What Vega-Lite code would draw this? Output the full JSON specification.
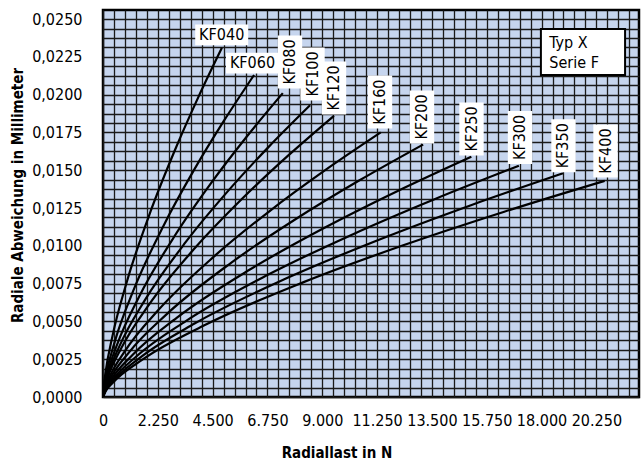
{
  "$schema": "https://vega.github.io/schema/vega-lite/v6.json",
  "autosize": {"type": "none"},
  "padding": {"left": 103, "top": 10, "right": 2, "bottom": 65},
  "width": 536,
  "height": 387,
  "background": "white",
  "config": {
    "view": {"fill": "#c6d5ee", "stroke": "black", "strokeWidth": 2.5},
    "font": "DejaVu Sans Condensed, sans-serif"
  },
  "datasets": {
    "curves": [
      {"s":"KF040","x":0,"y":0},{"s":"KF040","x":24,"y":0.000596},{"s":"KF040","x":98,"y":0.001555},{"s":"KF040","x":390,"y":0.004043},{"s":"KF040","x":976,"y":0.007609},{"s":"KF040","x":1952,"y":0.012275},{"s":"KF040","x":2928,"y":0.016239},{"s":"KF040","x":3904,"y":0.019804},{"s":"KF040","x":4880,"y":0.0231},
      {"s":"KF060","x":0,"y":0},{"s":"KF060","x":31,"y":0.00055},{"s":"KF060","x":124,"y":0.001433},{"s":"KF060","x":496,"y":0.003728},{"s":"KF060","x":1240,"y":0.007016},{"s":"KF060","x":2480,"y":0.011319},{"s":"KF060","x":3720,"y":0.014974},{"s":"KF060","x":4960,"y":0.01826},{"s":"KF060","x":6200,"y":0.0213},
      {"s":"KF080","x":0,"y":0},{"s":"KF080","x":37,"y":0.000519},{"s":"KF080","x":148,"y":0.001353},{"s":"KF080","x":590,"y":0.003518},{"s":"KF080","x":1476,"y":0.006621},{"s":"KF080","x":2952,"y":0.010681},{"s":"KF080","x":4428,"y":0.01413},{"s":"KF080","x":5904,"y":0.017232},{"s":"KF080","x":7380,"y":0.0201},
      {"s":"KF100","x":0,"y":0},{"s":"KF100","x":43,"y":0.000498},{"s":"KF100","x":170,"y":0.001299},{"s":"KF100","x":680,"y":0.003378},{"s":"KF100","x":1700,"y":0.006357},{"s":"KF100","x":3400,"y":0.010256},{"s":"KF100","x":5100,"y":0.013568},{"s":"KF100","x":6800,"y":0.016546},{"s":"KF100","x":8500,"y":0.0193},
      {"s":"KF120","x":0,"y":0},{"s":"KF120","x":47,"y":0.00048},{"s":"KF120","x":190,"y":0.001252},{"s":"KF120","x":758,"y":0.003255},{"s":"KF120","x":1896,"y":0.006127},{"s":"KF120","x":3792,"y":0.009884},{"s":"KF120","x":5688,"y":0.013076},{"s":"KF120","x":7584,"y":0.015946},{"s":"KF120","x":9480,"y":0.0186},
      {"s":"KF160","x":0,"y":0},{"s":"KF160","x":57,"y":0.000452},{"s":"KF160","x":228,"y":0.001178},{"s":"KF160","x":912,"y":0.003063},{"s":"KF160","x":2280,"y":0.005765},{"s":"KF160","x":4560,"y":0.0093},{"s":"KF160","x":6840,"y":0.012303},{"s":"KF160","x":9120,"y":0.015003},{"s":"KF160","x":11400,"y":0.0175},
      {"s":"KF200","x":0,"y":0},{"s":"KF200","x":66,"y":0.000431},{"s":"KF200","x":263,"y":0.001124},{"s":"KF200","x":1051,"y":0.002923},{"s":"KF200","x":2628,"y":0.005501},{"s":"KF200","x":5256,"y":0.008874},{"s":"KF200","x":7884,"y":0.01174},{"s":"KF200","x":10512,"y":0.014317},{"s":"KF200","x":13140,"y":0.0167},
      {"s":"KF250","x":0,"y":0},{"s":"KF250","x":76,"y":0.00041},{"s":"KF250","x":302,"y":0.00107},{"s":"KF250","x":1210,"y":0.002783},{"s":"KF250","x":3024,"y":0.005237},{"s":"KF250","x":6048,"y":0.008449},{"s":"KF250","x":9072,"y":0.011178},{"s":"KF250","x":12096,"y":0.013631},{"s":"KF250","x":15120,"y":0.0159},
      {"s":"KF300","x":0,"y":0},{"s":"KF300","x":85,"y":0.000395},{"s":"KF300","x":341,"y":0.00103},{"s":"KF300","x":1366,"y":0.002678},{"s":"KF300","x":3414,"y":0.00504},{"s":"KF300","x":6828,"y":0.00813},{"s":"KF300","x":10242,"y":0.010756},{"s":"KF300","x":13656,"y":0.013117},{"s":"KF300","x":17070,"y":0.0153},
      {"s":"KF350","x":0,"y":0},{"s":"KF350","x":94,"y":0.000382},{"s":"KF350","x":378,"y":0.000996},{"s":"KF350","x":1510,"y":0.00259},{"s":"KF350","x":3776,"y":0.004875},{"s":"KF350","x":7552,"y":0.007865},{"s":"KF350","x":11328,"y":0.010404},{"s":"KF350","x":15104,"y":0.012688},{"s":"KF350","x":18880,"y":0.0148},
      {"s":"KF400","x":0,"y":0},{"s":"KF400","x":103,"y":0.000369},{"s":"KF400","x":412,"y":0.000962},{"s":"KF400","x":1647,"y":0.002503},{"s":"KF400","x":4118,"y":0.00471},{"s":"KF400","x":8236,"y":0.007599},{"s":"KF400","x":12354,"y":0.010053},{"s":"KF400","x":16472,"y":0.012259},{"s":"KF400","x":20590,"y":0.0143}
    ],
    "labels": [
      {"s":"KF040","x":4872,"y":0.02395,"dir":"h"},
      {"s":"KF060","x":6136,"y":0.02209,"dir":"h"},
      {"s":"KF080","x":7675,"y":0.02216,"dir":"v"},
      {"s":"KF100","x":8599,"y":0.02137,"dir":"v"},
      {"s":"KF120","x":9481,"y":0.02044,"dir":"v"},
      {"s":"KF160","x":11369,"y":0.01951,"dir":"v"},
      {"s":"KF200","x":13093,"y":0.01852,"dir":"v"},
      {"s":"KF250","x":15125,"y":0.01773,"dir":"v"},
      {"s":"KF300","x":17116,"y":0.01717,"dir":"v"},
      {"s":"KF350","x":18901,"y":0.01662,"dir":"v"},
      {"s":"KF400","x":20625,"y":0.01627,"dir":"v"}
    ],
    "legendbox": [
      {"t":"Typ X\nSerie F","bx":19701,"by":0.02282,"tx":18318,"ty":0.0234}
    ]
  },
  "layer": [
    {
      "data": {"name": "curves"},
      "mark": {"type": "line", "color": "black", "strokeWidth": 2.2, "interpolate": "monotone", "clip": true},
      "encoding": {
        "x": {
          "field": "x", "type": "quantitative",
          "scale": {"domain": [0, 22000], "nice": false, "zero": true},
          "axis": {
            "values": [0,450,900,1350,1800,2250,2700,3150,3600,4050,4500,4950,5400,5850,6300,6750,7200,7650,8100,8550,9000,9450,9900,10350,10800,11250,11700,12150,12600,13050,13500,13950,14400,14850,15300,15750,16200,16650,17100,17550,18000,18450,18900,19350,19800,20250,20700,21150,21600],
            "tickCount": 500,
            "labelExpr": "datum.value % 2250 == 0 ? replace(format(datum.value, ','), ',', '.') : ''",
            "grid": true, "gridColor": "#1a1a1a", "gridWidth": 1.3, "gridOpacity": 1,
            "domain": false, "ticks": false,
            "labelFontSize": 16, "labelColor": "black", "labelPadding": 15, "labelBaseline": "top",
            "labelOverlap": false, "labelFlush": false,
            "title": "Radiallast in N", "titleFontSize": 15, "titleFontWeight": "bold", "titleColor": "black",
            "titleX": 233.5, "titleY": 55, "titleAnchor": "middle", "titleAlign": "center", "titleBaseline": "middle"
          }
        },
        "y": {
          "field": "y", "type": "quantitative",
          "scale": {"domain": [0, 0.0256], "nice": false, "zero": true},
          "axis": {
            "values": [0,0.000625,0.00125,0.001875,0.0025,0.003125,0.00375,0.004375,0.005,0.005625,0.00625,0.006875,0.0075,0.008125,0.00875,0.009375,0.01,0.010625,0.01125,0.011875,0.0125,0.013125,0.01375,0.014375,0.015,0.015625,0.01625,0.016875,0.0175,0.018125,0.01875,0.019375,0.02,0.020625,0.02125,0.021875,0.0225,0.023125,0.02375,0.024375,0.025],
            "tickCount": 500,
            "labelExpr": "round(datum.value * 10000) % 25 == 0 ? replace(format(datum.value, '.4f'), '.', ',') : ''",
            "grid": true, "gridColor": "#1a1a1a", "gridWidth": 1.3, "gridOpacity": 1,
            "domain": false, "ticks": false,
            "labelFontSize": 16, "labelColor": "black", "labelPadding": 21, "labelBaseline": "middle",
            "labelOverlap": false, "labelFlush": false,
            "title": "Radiale Abweichung in Millimeter", "titleFontSize": 15, "titleFontWeight": "bold", "titleColor": "black",
            "titleX": -85.5, "titleY": 185, "titleAngle": 270, "titleAnchor": "middle", "titleAlign": "center", "titleBaseline": "middle"
          }
        },
        "detail": {"field": "s", "type": "nominal"}
      }
    },
    {
      "data": {"name": "labels"},
      "transform": [{"filter": "datum.dir == 'h'"}],
      "mark": {"type": "point", "filled": true, "fill": "white", "opacity": 1, "strokeWidth": 0, "shape": "M-1,-0.39h2v0.78h-2Z", "size": 2809},
      "encoding": {"x": {"field": "x", "type": "quantitative"}, "y": {"field": "y", "type": "quantitative"}}
    },
    {
      "data": {"name": "labels"},
      "transform": [{"filter": "datum.dir == 'v'"}],
      "mark": {"type": "point", "filled": true, "fill": "white", "opacity": 1, "strokeWidth": 0, "shape": "M-0.46,-1h0.92v2h-0.92Z", "size": 2809},
      "encoding": {"x": {"field": "x", "type": "quantitative"}, "y": {"field": "y", "type": "quantitative"}}
    },
    {
      "data": {"name": "labels"},
      "transform": [{"filter": "datum.dir == 'h'"}],
      "mark": {"type": "text", "fontSize": 16, "color": "black", "align": "center", "baseline": "middle"},
      "encoding": {"x": {"field": "x", "type": "quantitative"}, "y": {"field": "y", "type": "quantitative"}, "text": {"field": "s"}}
    },
    {
      "data": {"name": "labels"},
      "transform": [{"filter": "datum.dir == 'v'"}],
      "mark": {"type": "text", "fontSize": 16, "color": "black", "align": "center", "baseline": "middle", "angle": 270},
      "encoding": {"x": {"field": "x", "type": "quantitative"}, "y": {"field": "y", "type": "quantitative"}, "text": {"field": "s"}}
    },
    {
      "data": {"name": "legendbox"},
      "mark": {"type": "point", "filled": true, "fill": "white", "stroke": "black", "strokeWidth": 2, "opacity": 1, "shape": "M-1.83,-1h3.66v2h-3.66Z", "size": 2116},
      "encoding": {"x": {"field": "bx", "type": "quantitative"}, "y": {"field": "by", "type": "quantitative"}}
    },
    {
      "data": {"name": "legendbox"},
      "mark": {"type": "text", "fontSize": 16, "color": "black", "align": "left", "baseline": "middle", "lineBreak": "\n", "lineHeight": 20},
      "encoding": {"x": {"field": "tx", "type": "quantitative"}, "y": {"field": "ty", "type": "quantitative"}, "text": {"field": "t"}}
    }
  ]
}
